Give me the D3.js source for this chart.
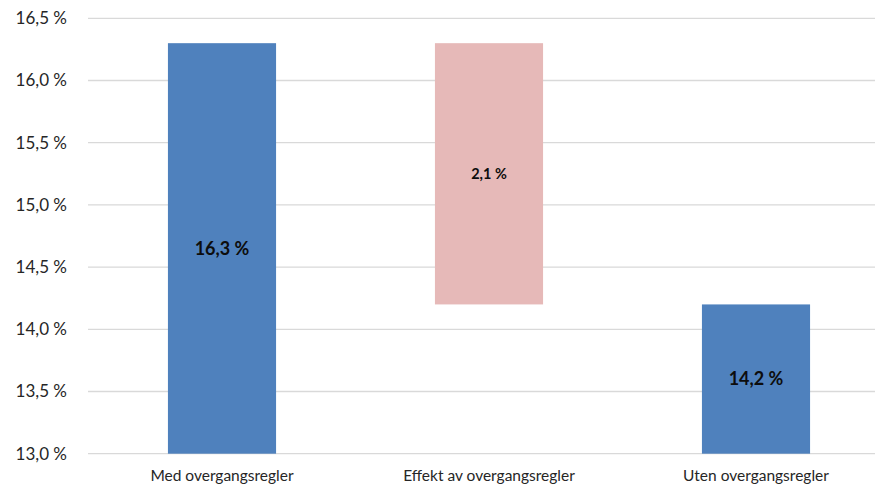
<!DOCTYPE html>
<html>
<head>
<meta charset="utf-8">
<script src="https://cdn.jsdelivr.net/npm/d3@7"></script>
<style>
  body { margin: 0; background: #fff; }
  svg { display: block; font-family: Lato, "Open Sans", sans-serif; }
</style>
</head>
<body>
<div id="chart"></div>
<script>
// Data
const categories = ['Med overgangsregler', 'Effekt av overgangsregler', 'Uten overgangsregler'];
const barStart = [13.0, 14.2, 13.0];
const barEnd = [16.3, 16.3, 14.2];
const barLabels = ['16,3 %', '2,1 %', '14,2 %'];
const barColors = ['#4f81bd', '#e6b9b8', '#4f81bd'];
const yTicks = [13.0, 13.5, 14.0, 14.5, 15.0, 15.5, 16.0, 16.5];

const width = 875, height = 486;

const svg = d3.select('#chart')
    .append('svg')
    .attr('width', width)
    .attr('height', height);

const y = d3.scaleLinear().domain([13.0, 16.5]).range([453.7, 18.3]);
const x = d3.scaleBand().domain(categories).range([88.5, 889.5]).paddingInner(0.595).paddingOuter(0.2975);

// Gridlines
svg.append('g')
    .selectAll('line')
    .data(yTicks)
    .enter()
    .append('line')
    .attr('x1', 88)
    .attr('x2', width)
    .attr('y1', d => y(d))
    .attr('y2', d => y(d))
    .attr('stroke', '#d9d9d9')
    .attr('stroke-width', 1.3);

// Y tick labels
svg.append('g')
    .selectAll('text')
    .data(yTicks)
    .enter()
    .append('text')
    .attr('x', 67)
    .attr('y', d => y(d))
    .attr('dy', '0.35em')
    .attr('text-anchor', 'end')
    .attr('font-size', 17)
    .attr('fill', '#262626')
    .text(d => d.toFixed(1).replace('.', ',') + ' %');

// Bars
svg.append('g')
    .selectAll('rect')
    .data(categories)
    .enter()
    .append('rect')
    .attr('x', d => x(d))
    .attr('width', x.bandwidth())
    .attr('y', (d, i) => y(barEnd[i]))
    .attr('height', (d, i) => y(barStart[i]) - y(barEnd[i]))
    .attr('fill', (d, i) => barColors[i]);

// Bar value labels
svg.append('g')
    .selectAll('text')
    .data(categories)
    .enter()
    .append('text')
    .attr('x', d => x(d) + x.bandwidth() / 2)
    .attr('y', (d, i) => (y(barStart[i]) + y(barEnd[i])) / 2)
    .attr('dy', '0.35em')
    .attr('text-anchor', 'middle')
    .attr('font-weight', 'bold')
    .attr('font-size', (d, i) => i === 1 ? 14.5 : 18)
    .attr('fill', '#0d0d0d')
    .text((d, i) => barLabels[i]);

// Category labels
svg.append('g')
    .selectAll('text')
    .data(categories)
    .enter()
    .append('text')
    .attr('x', d => x(d) + x.bandwidth() / 2)
    .attr('y', 481)
    .attr('text-anchor', 'middle')
    .attr('font-size', 15.5)
    .attr('fill', '#262626')
    .text(d => d);
</script>
</body>
</html>
